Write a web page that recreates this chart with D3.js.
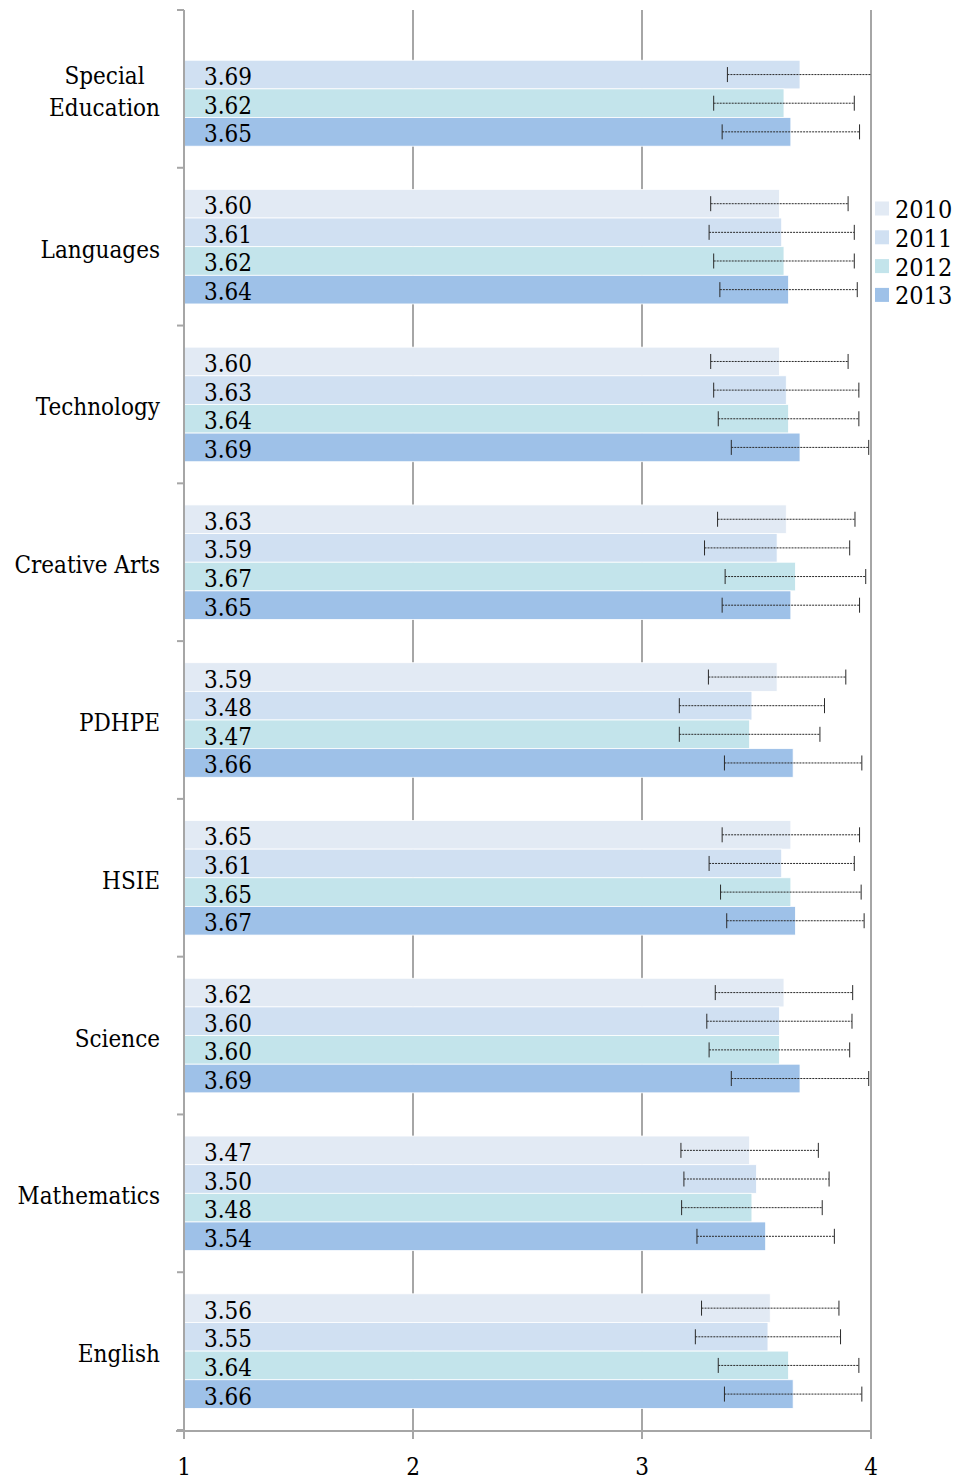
<!DOCTYPE html>
<html>
<head>
<meta charset="utf-8">
<script src="https://cdn.jsdelivr.net/npm/d3@7"></script>
<style>
  html, body { margin: 0; padding: 0; background: #fff; }
  svg text { font-family: "DejaVu Serif", serif; font-stretch: condensed; fill: #000; }
</style>
</head>
<body>
<svg id="chart" width="958" height="1481"></svg>
<script>
const categories = ["Special\nEducation", "Languages", "Technology", "Creative Arts", "PDHPE", "HSIE", "Science", "Mathematics", "English"];
const years = ["2010", "2011", "2012", "2013"];
const values2010 = [null, 3.60, 3.60, 3.63, 3.59, 3.65, 3.62, 3.47, 3.56];
const values2011 = [3.69, 3.61, 3.63, 3.59, 3.48, 3.61, 3.60, 3.50, 3.55];
const values2012 = [3.62, 3.62, 3.64, 3.67, 3.47, 3.65, 3.60, 3.48, 3.64];
const values2013 = [3.65, 3.64, 3.69, 3.65, 3.66, 3.67, 3.69, 3.54, 3.66];
const errors = [0.30, 0.317, 0.307, 0.30];
const xTicks = [1, 2, 3, 4];
const colors = ["#e2eaf4", "#d0e0f2", "#c3e4eb", "#9ec1e8"];

const seriesValues = [values2010, values2011, values2012, values2013];
const rows = [];
categories.forEach((c, i) => {
  years.forEach((y, j) => {
    const v = seriesValues[j][i];
    if (v != null) rows.push({ cat: c, year: y, value: v, err: errors[j], color: colors[j] });
  });
});

const svg = d3.select("#chart");
const x = d3.scaleLinear().domain([1, 4]).range([184, 871]);
const y0 = d3.scaleBand().domain(categories).range([10, 1430]).padding(0);
const y1 = d3.scaleBand().domain(years).range([0, y0.bandwidth()]).paddingInner(0).paddingOuter(0.754);
const gray = "#a6a6a6";

// gridlines
svg.append("g").selectAll("line").data(xTicks.slice(1)).join("line")
  .attr("x1", d => x(d)).attr("x2", d => x(d))
  .attr("y1", 10).attr("y2", 1430)
  .attr("stroke", gray).attr("stroke-width", 2);

// bars
const bars = svg.append("g");
bars.selectAll("rect").data(rows).join("rect")
  .attr("x", x(1))
  .attr("y", d => y0(d.cat) + y1(d.year))
  .attr("width", d => x(d.value) - x(1))
  .attr("height", y1.bandwidth())
  .attr("fill", d => d.color)
  .attr("stroke", "#ffffff").attr("stroke-width", 0.8);

// error bars
const eb = svg.append("g").attr("stroke", "#2a2a2a").attr("stroke-width", 1).attr("fill", "none");
rows.forEach(d => {
  const cy = y0(d.cat) + y1(d.year) + y1.bandwidth() / 2;
  const lo = Math.max(1, d.value - d.err), hi = Math.min(4, d.value + d.err);
  eb.append("line").attr("x1", x(lo)).attr("x2", x(hi)).attr("y1", cy).attr("y2", cy).attr("stroke-dasharray", "2,1");
  if (d.value - d.err >= 1) eb.append("line").attr("x1", x(lo)).attr("x2", x(lo)).attr("y1", cy - 7.5).attr("y2", cy + 7.5);
  if (d.value + d.err <= 4) eb.append("line").attr("x1", x(hi)).attr("x2", x(hi)).attr("y1", cy - 7.5).attr("y2", cy + 7.5);
});

// value labels
svg.append("g").selectAll("text").data(rows).join("text")
  .attr("x", 204)
  .attr("y", d => y0(d.cat) + y1(d.year) + y1.bandwidth() / 2 + 10.5)
  .attr("font-size", 24)
  .text(d => d.value.toFixed(2));

// left axis
const axisG = svg.append("g");
axisG.append("line").attr("x1", x(1)).attr("x2", x(1)).attr("y1", 10).attr("y2", 1431)
  .attr("stroke", gray).attr("stroke-width", 2);
const bounds = categories.map(c => y0(c)).concat([y0.range()[1]]);
axisG.selectAll("line.tk").data(bounds).join("line").attr("class", "tk")
  .attr("x1", x(1) - 7).attr("x2", x(1)).attr("y1", d => d).attr("y2", d => d)
  .attr("stroke", gray).attr("stroke-width", 2);

// bottom axis
axisG.append("line").attr("x1", x(1) - 8).attr("x2", x(4) + 1).attr("y1", 1431).attr("y2", 1431)
  .attr("stroke", gray).attr("stroke-width", 2);
axisG.selectAll("line.bt").data(xTicks).join("line").attr("class", "bt")
  .attr("x1", d => x(d)).attr("x2", d => x(d)).attr("y1", 1431).attr("y2", 1439)
  .attr("stroke", gray).attr("stroke-width", 2);
axisG.selectAll("text.xl").data(xTicks).join("text").attr("class", "xl")
  .attr("x", d => x(d)).attr("y", 1475)
  .attr("text-anchor", "middle").attr("font-size", 24)
  .text(d => d);

// category labels
const catG = svg.append("g");
categories.forEach(c => {
  const lines = c.split("\n");
  const cy = y0(c) + y0.bandwidth() / 2;
  const lh = 32;
  const t = catG.append("text").attr("font-size", 24).attr("text-anchor", "middle");
  lines.forEach((l, i) => {
    t.append("tspan").attr("y", cy + 11 + (i - (lines.length - 1) / 2) * lh).text(l);
  });
  const w = d3.max(t.selectAll("tspan").nodes(), n => n.getComputedTextLength());
  t.selectAll("tspan").attr("x", 160 - w / 2);
});

// legend
const lg = svg.append("g");
years.forEach((yv, j) => {
  const cy = 208.5 + j * 28.8;
  lg.append("rect").attr("x", 875).attr("y", cy - 7).attr("width", 14).attr("height", 14).attr("fill", colors[j]);
  lg.append("text").attr("x", 895).attr("y", cy + 9.5).attr("font-size", 25).text(yv);
});
</script>
</body>
</html>
